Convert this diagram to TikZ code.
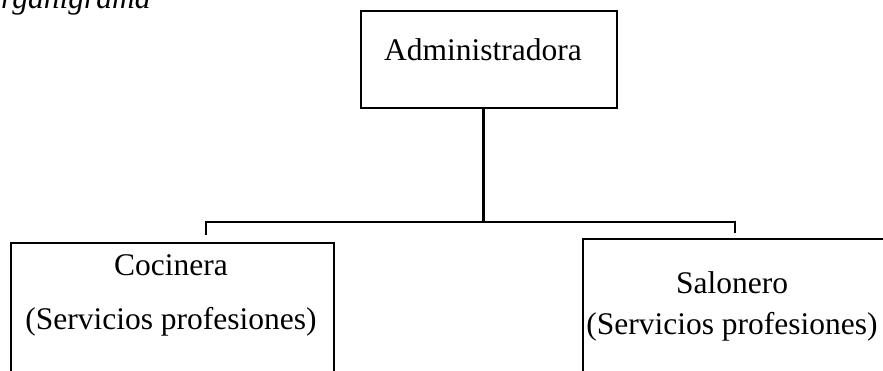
\documentclass[tikz,border=0pt]{standalone}
\usepackage{fontspec}
\setmainfont{Liberation Serif}
\begin{document}
\begin{tikzpicture}[x=1pt,y=-1pt,
		box/.style={draw,line width=1.8pt,anchor=north west,inner sep=0pt},
		txt/.style={font=\fontsize{31.5}{36}\selectfont,inner sep=0pt},
		link/.style={line width=2.8pt}]
	\useasboundingbox (0,0) rectangle (883,370);
	\node [txt,anchor=base west,font=\fontsize{31.5}{36}\selectfont\itshape] (title) at (1,8) {rganigrama};
	% boxes
	\node [box,minimum width=256pt,minimum height=97pt] (admin) at (360,10) {};
	\node [box,minimum width=323pt,minimum height=160pt] (coc) at (10,242) {};
	\node [box,minimum width=310pt,minimum height=160pt] (sal) at (582,238) {};
	% texts
	\node [txt] (admintxt) at (483,50) {Administradora};
	\node [txt] (coctxt) at (171,265) {Cocinera};
	\node [txt] (cocsub) at (171,322) {(Servicios profesiones)};
	\node [txt] (saltxt) at (732,283) {Salonero};
	\node [txt] (salsub) at (732,327) {(Servicios profesiones)};
	% connectors
	\coordinate (bus) at (483.5,222);
	\coordinate (bl) at (206,222);
	\coordinate (br) at (735,222);
	\draw [link] (admin.south -| bus) -- (bus);
	\draw [link] ([yshift=7pt]bl |- coc.north) -- (bl) -- (br) -- ([yshift=5pt]br |- sal.north);
\end{tikzpicture}
\end{document}
